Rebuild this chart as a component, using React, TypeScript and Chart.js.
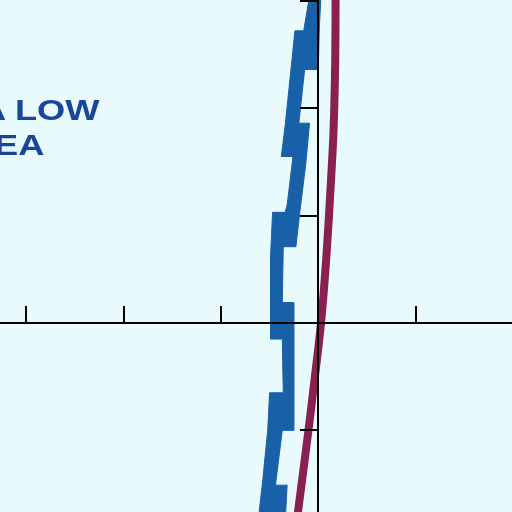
import { useEffect, useRef } from "react";
import Chart from "chart.js/auto";

// outline of the blue band: left edge top -> bottom
const bandLeftX = [-0.08, -0.15, -0.24, -0.34, -0.38, -0.26, -0.32, -0.34, -0.47, -0.49, -0.49, -0.37, -0.36, -0.5, -0.52, -0.57, -0.64];
const bandLeftY = [3.1, 2.72, 2.72, 1.84, 1.55, 1.55, 1.1, 1.03, 1.03, 0.63, -0.15, -0.15, -0.65, -0.65, -1.0, -1.46, -2.02];
// right edge bottom -> top
const bandRightX = [-0.35, -0.32, -0.44, -0.37, -0.25, -0.25, -0.37, -0.36, -0.23, -0.19, -0.13, -0.09, -0.2, -0.14, 0.0, 0.01, 0.03];
const bandRightY = [-2.02, -1.51, -1.51, -1.0, -1.0, 0.19, 0.19, 0.71, 0.71, 1.03, 1.47, 1.86, 1.86, 2.36, 2.36, 2.73, 3.1];

// crimson curve
const curveX = [0.178, 0.174, 0.157, 0.125, 0.084, 0.028, -0.039, -0.101, -0.209, -0.245];
const curveY = [3.1, 2.45, 1.8, 1.24, 0.63, 0.0, -0.53, -1.0, -1.76, -2.02];

const xRange = [-3.27, 1.99];
const yRange = [-1.76, 3.007];

const BLUE = "#1860a8";
const CRIMSON = "#8a1f52";
const AXIS = "#000000";
const BG = "#e8fafc";

export default function App() {
  const ref = useRef<HTMLCanvasElement | null>(null);

  useEffect(() => {
    if (!ref.current) return;
    const band = [
      ...bandLeftX.map((x, i) => ({ x, y: bandLeftY[i] })),
      ...bandRightX.map((x, i) => ({ x, y: bandRightY[i] })),
    ];
    const curve = curveX.map((x, i) => ({ x, y: curveY[i] }));

    const chart = new Chart(ref.current, {
      type: "scatter",
      data: {
        datasets: [
          {
            data: band,
            showLine: true,
            fill: "shape",
            backgroundColor: BLUE,
            borderColor: BLUE,
            borderWidth: 1,
            pointRadius: 0,
            tension: 0,
          },
          {
            data: curve,
            showLine: true,
            fill: false,
            borderColor: CRIMSON,
            borderWidth: 8,
            pointRadius: 0,
            tension: 0.3,
          },
        ],
      },
      options: {
        animation: false,
        responsive: false,
        events: [],
        layout: { padding: 0 },
        plugins: { legend: { display: false }, tooltip: { enabled: false } },
        scales: {
          x: {
            type: "linear",
            min: xRange[0],
            max: xRange[1],
            position: { y: 0 },
            afterFit: (s: any) => {
              s.height = 0;
            },
            ticks: { display: false, stepSize: 1, includeBounds: false },
            grid: { drawOnChartArea: false, tickLength: -18, color: AXIS, lineWidth: 2, z: 1 },
            border: { display: true, color: AXIS, width: 2, z: 1 },
          },
          y: {
            type: "linear",
            min: yRange[0],
            max: yRange[1],
            position: { x: 0 },
            afterFit: (s: any) => {
              s.width = 0;
            },
            ticks: { display: false, stepSize: 1, includeBounds: false },
            grid: { drawOnChartArea: false, tickLength: 17, color: AXIS, lineWidth: 2, z: 1 },
            border: { display: true, color: AXIS, width: 2, z: 1 },
          },
        },
      } as any,
    });

    return () => {
      chart.destroy();
    };
  }, []);

  const label = {
    position: "absolute" as const,
    fontFamily: "'Liberation Sans', Arial, sans-serif",
    fontWeight: 700,
    fontSize: 29,
    lineHeight: "29px",
    color: "#17469a",
    whiteSpace: "nowrap" as const,
    transform: "scaleX(1.25)",
    transformOrigin: "left top",
  };

  return (
    <div
      style={{
        position: "fixed",
        top: 0,
        left: 0,
        width: 512,
        height: 512,
        overflow: "hidden",
        background: BG,
      }}
    >
      <canvas ref={ref} width={512} height={512} style={{ position: "absolute", top: 0, left: 0 }} />
      <div style={{ ...label, left: -20, top: 96 }}>A LOW</div>
      <div style={{ ...label, left: -6, top: 131 }}>EA</div>
    </div>
  );
}
